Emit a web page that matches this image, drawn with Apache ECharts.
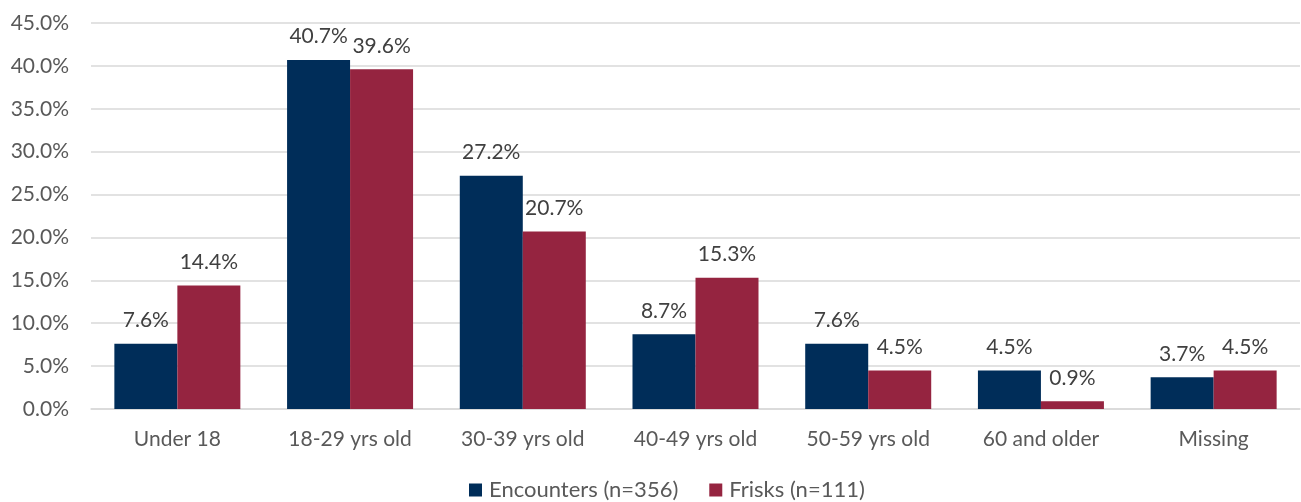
<!DOCTYPE html>
<html>
<head>
<meta charset="utf-8">
<script src="https://cdn.jsdelivr.net/npm/echarts@6/dist/echarts.min.js"></script>
<style>
  html, body { margin: 0; padding: 0; background: #fff; }
  #chart { width: 1301px; height: 502px; }
</style>
</head>
<body>
<div id="chart"></div>
<script>
const categories = ['Under 18', '18-29 yrs old', '30-39 yrs old', '40-49 yrs old', '50-59 yrs old', '60 and older', 'Missing'];
const encounters = [7.6, 40.7, 27.2, 8.7, 7.6, 4.5, 3.7];
const frisks = [14.4, 39.6, 20.7, 15.3, 4.5, 0.9, 4.5];
const seriesNames = ['Encounters (n=356)', 'Frisks (n=111)'];

const font = 'Lato, "Open Sans", sans-serif';
const textColor = '#595959';
const fontSize = 21;

const chart = echarts.init(document.getElementById('chart'));

function barSeries(name, data, color) {
    return {
        name: name,
        type: 'bar',
        data: data,
        barWidth: 63,
        barGap: '0%',
        itemStyle: {color: color},
        label: {
            show: true,
            position: 'top',
            distance: 13,
            formatter: p => p.value.toFixed(1) + '%',
            fontFamily: font,
            fontSize: fontSize,
            color: '#404040'
        }
    };
}

chart.setOption({
    animation: false,
    textStyle: {fontFamily: font},
    grid: {left: 91, right: 1, top: 23, bottom: 93},
    legend: {
        top: 474,
        left: 464,
        itemWidth: 13,
        itemHeight: 13,
        itemGap: 31,
        icon: 'rect',
        textStyle: {fontFamily: font, fontSize: 22, color: textColor, padding: [0, 0, 0, 2]},
        data: seriesNames
    },
    xAxis: {
        type: 'category',
        data: categories,
        axisTick: {show: false},
        axisLine: {lineStyle: {color: '#d9d9d9', width: 1.5}},
        axisLabel: {fontFamily: font, fontSize: fontSize, color: textColor, margin: 20}
    },
    yAxis: {
        type: 'value',
        min: 0,
        max: 45,
        interval: 5,
        axisLine: {show: false},
        axisTick: {show: false},
        splitLine: {lineStyle: {color: '#d9d9d9', width: 1.5}},
        axisLabel: {
            fontFamily: font, fontSize: fontSize, color: textColor, margin: 22,
            formatter: v => v.toFixed(1) + '%'
        }
    },
    series: [
        barSeries(seriesNames[0], encounters, '#002D59'),
        barSeries(seriesNames[1], frisks, '#952440')
    ]
});
</script>
</body>
</html>
